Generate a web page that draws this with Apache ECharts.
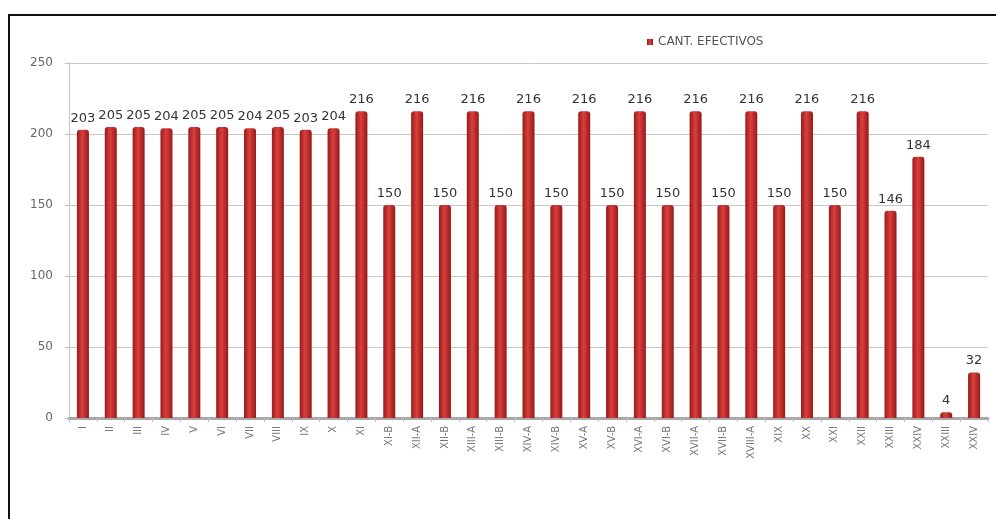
<!DOCTYPE html>
<html>
<head>
<meta charset="utf-8">
<title>Cant. efectivos</title>
<script src="https://cdn.jsdelivr.net/npm/echarts@6/dist/echarts.min.js"></script>
<style>
  html, body { margin: 0; padding: 0; background: #fff; }
  #frame {
    position: absolute; left: 8px; top: 14px; width: 1000px; height: 520px;
    border-top: 2px solid #111; border-left: 2px solid #111;
  }
  #chart { position: absolute; left: 0; top: 0; width: 996px; height: 519px; }
</style>
</head>
<body>
<div id="frame"></div>
<div id="chart"></div>
<script>
// categorias del eje X
const categories = ['I', 'II', 'III', 'IV', 'V', 'VI', 'VII', 'VIII', 'IX', 'X', 'XI',
  'XI-B', 'XII-A', 'XII-B', 'XIII-A', 'XIII-B', 'XIV-A', 'XIV-B', 'XV-A', 'XV-B',
  'XVI-A', 'XVI-B', 'XVII-A', 'XVII-B', 'XVIII-A', 'XIX', 'XX', 'XXI', 'XXII',
  'XXIII', 'XXIV', 'XXIII', 'XXIV'];

// cantidad de efectivos
const efectivos = [203, 205, 205, 204, 205, 205, 204, 205, 203, 204, 216,
  150, 216, 150, 216, 150, 216, 150, 216, 150,
  216, 150, 216, 150, 216, 150, 216, 150, 216,
  146, 184, 4, 32];

const yTicks = [0, 50, 100, 150, 200, 250];

const chart = echarts.init(document.getElementById('chart'));

const barColor = new echarts.graphic.LinearGradient(0, 0, 1, 0, [
  { offset: 0, color: '#9a1a1a' },
  { offset: 0.45, color: '#d8403c' },
  { offset: 1, color: '#981818' }
]);

const option = {
  backgroundColor: 'transparent',
  animation: false,
  textStyle: { fontFamily: 'DejaVu Sans' },
  legend: {
    data: ['CANT. EFECTIVOS'],
    left: 642,
    top: 31,
    itemWidth: 6,
    itemHeight: 6,
    itemGap: 3,
    icon: 'rect',
    textStyle: { fontSize: 12, color: '#555', fontFamily: 'DejaVu Sans' }
  },
  grid: {
    left: 69,
    right: 8,
    top: 63,
    bottom: 101,
    containLabel: false
  },
  xAxis: {
    type: 'category',
    data: categories,
    axisLine: { lineStyle: { color: '#a8a8a8', width: 3 } },
    axisTick: { show: true, alignWithLabel: false, lineStyle: { color: '#bbb' }, length: 4 },
    axisLabel: {
      interval: 0,
      rotate: 90,
      fontSize: 10,
      color: '#777',
      margin: 8
    }
  },
  yAxis: {
    type: 'value',
    min: 0,
    max: 250,
    interval: 50,
    axisLine: { show: true, lineStyle: { color: '#c4c4c4', width: 1 } },
    axisTick: { show: true, length: 4, lineStyle: { color: '#bbb' } },
    axisLabel: {
      fontSize: 12,
      color: '#666',
      margin: 16,
      formatter: v => yTicks.includes(v) ? String(v) : ''
    },
    splitLine: { lineStyle: { color: '#c8c8c8', width: 1 } }
  },
  series: [{
    name: 'CANT. EFECTIVOS',
    type: 'bar',
    data: efectivos,
    barWidth: 12,
    itemStyle: { color: barColor, borderRadius: [3, 3, 0, 0] },
    label: {
      show: true,
      position: 'top',
      distance: 5,
      fontSize: 13,
      color: '#333'
    }
  }]
};

chart.setOption(option);
</script>
</body>
</html>
